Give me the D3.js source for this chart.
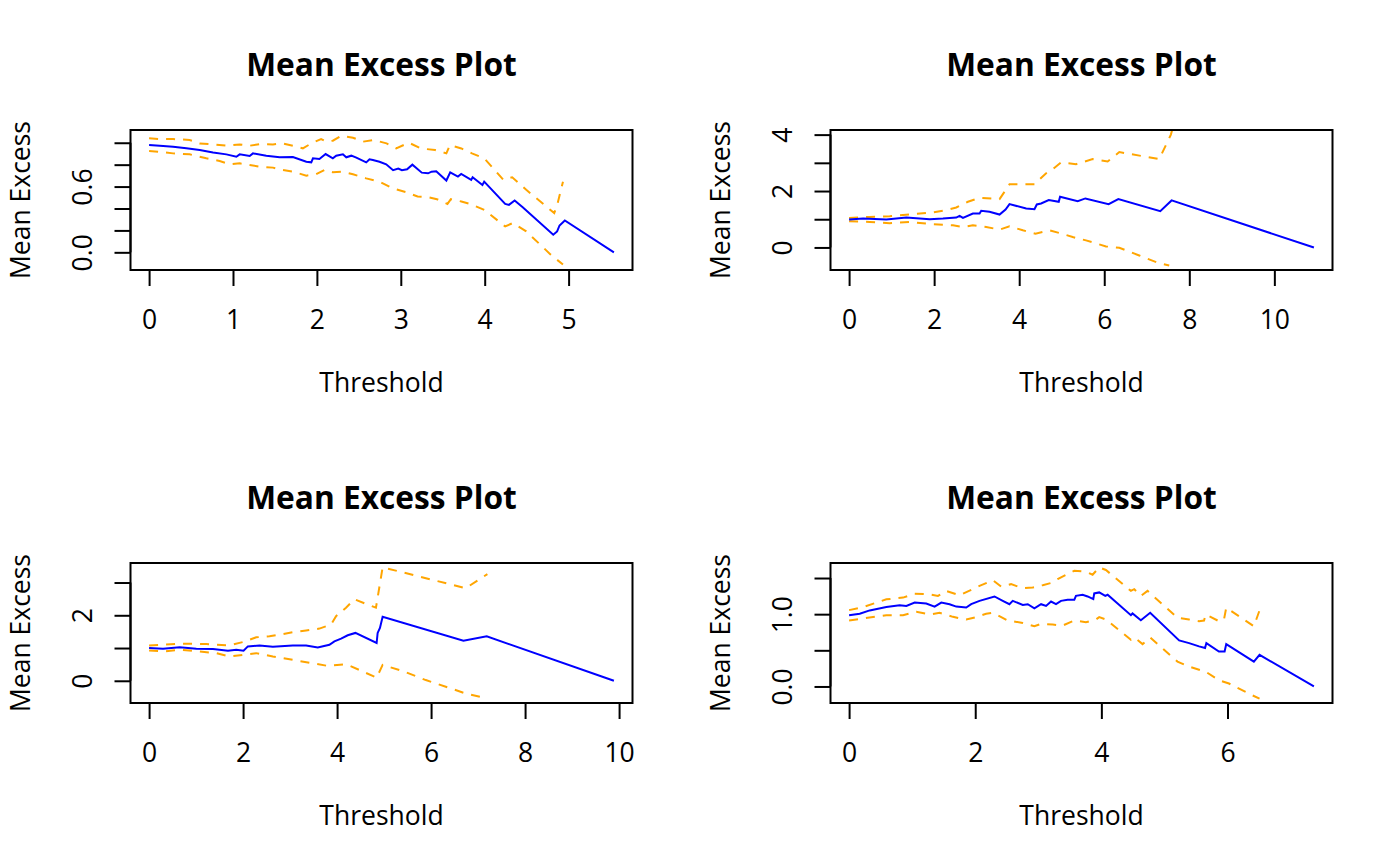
<!DOCTYPE html>
<html>
<head>
<meta charset="utf-8">
<script src="https://cdn.jsdelivr.net/npm/d3@7"></script>
<style>
  html, body { margin: 0; padding: 0; background: #fff; }
  svg text { font-family: "Open Sans", "Noto Sans", sans-serif; fill: #000; }
</style>
</head>
<body>
<div id="chart"></div>
<script>
// mean excess curves: [threshold, mean excess]
const p1Mean = [[0,0.979],[0.127,0.973],[0.286,0.964],[0.444,0.949],[0.603,0.933],[0.762,0.912],[0.921,0.894],[1.04,0.872],[1.08,0.894],[1.199,0.879],[1.238,0.903],[1.397,0.882],[1.556,0.867],[1.714,0.87],[1.874,0.827],[1.933,0.821],[1.953,0.858],[2.03,0.852],[2.104,0.897],[2.19,0.858],[2.23,0.882],[2.31,0.894],[2.35,0.867],[2.41,0.882],[2.47,0.864],[2.588,0.821],[2.627,0.849],[2.667,0.843],[2.746,0.827],[2.826,0.803],[2.908,0.749],[2.97,0.764],[3.013,0.749],[3.075,0.758],[3.138,0.800],[3.25,0.727],[3.325,0.721],[3.367,0.736],[3.422,0.739],[3.543,0.655],[3.589,0.730],[3.681,0.691],[3.72,0.715],[3.839,0.661],[3.856,0.685],[3.973,0.615],[3.994,0.645],[4.244,0.442],[4.289,0.433],[4.357,0.473],[4.453,0.412],[4.817,0.161],[4.863,0.191],[4.892,0.245],[4.955,0.291],[5.54,0]];
const p1Upper = [[0,1.04],[0.127,1.034],[0.286,1.034],[0.483,1.025],[0.603,0.994],[0.762,0.985],[0.921,0.973],[1.08,0.985],[1.199,0.973],[1.318,0.988],[1.476,0.985],[1.595,0.994],[1.714,0.973],[1.833,0.949],[1.933,0.994],[2.05,1.034],[2.11,1.01],[2.19,1.019],[2.29,1.064],[2.43,1.046],[2.55,1.01],[2.68,1.025],[2.83,0.994],[2.945,0.949],[3.096,1.000],[3.242,0.948],[3.409,0.933],[3.543,0.903],[3.585,0.979],[3.722,0.948],[3.848,0.903],[3.994,0.858],[4.224,0.661],[4.328,0.685],[4.495,0.570],[4.829,0.358],[4.870,0.449],[4.933,0.645]];
const p1Lower = [[0,0.924],[0.127,0.918],[0.286,0.903],[0.483,0.894],[0.682,0.858],[0.841,0.833],[0.96,0.803],[1.08,0.812],[1.199,0.797],[1.318,0.782],[1.476,0.773],[1.595,0.751],[1.714,0.736],[1.874,0.7],[1.99,0.712],[2.09,0.751],[2.19,0.73],[2.31,0.736],[2.43,0.712],[2.588,0.675],[2.746,0.645],[2.905,0.584],[3.075,0.546],[3.200,0.509],[3.325,0.503],[3.430,0.485],[3.556,0.442],[3.597,0.485],[3.722,0.464],[3.826,0.442],[3.994,0.388],[4.244,0.236],[4.335,0.267],[4.495,0.191],[4.787,-0.021],[4.933,-0.112]];

const p2Mean = [[0,0.988],[0.329,1.024],[0.876,0.988],[1.347,1.06],[1.894,1.0],[2.207,1.024],[2.52,1.06],[2.598,1.119],[2.677,1.048],[2.911,1.202],[3.068,1.202],[3.107,1.298],[3.302,1.262],[3.538,1.167],[3.679,1.345],[3.772,1.536],[4.164,1.381],[4.359,1.357],[4.414,1.524],[4.515,1.56],[4.695,1.679],[4.93,1.619],[4.961,1.798],[5.376,1.643],[5.556,1.738],[6.103,1.536],[6.331,1.714],[7.317,1.286],[7.583,1.667],[10.93,0]];
const p2Upper = [[0,1.048],[0.485,1.083],[0.955,1.107],[1.503,1.179],[1.972,1.238],[2.285,1.321],[2.52,1.417],[2.794,1.619],[3.068,1.762],[3.538,1.714],[3.655,1.976],[3.772,2.238],[4.359,2.238],[4.633,2.631],[4.789,2.774],[4.984,3.012],[5.336,2.952],[5.728,3.131],[6.08,3.048],[6.354,3.381],[7.293,3.131],[7.567,4.0],[7.62,4.3]];
const p2Lower = [[0,0.929],[0.485,0.905],[0.955,0.857],[1.425,0.905],[1.972,0.821],[2.442,0.786],[2.677,0.726],[2.911,0.786],[3.224,0.726],[3.538,0.631],[3.772,0.75],[4.085,0.607],[4.383,0.488],[4.711,0.607],[4.946,0.512],[5.258,0.369],[5.571,0.25],[6.041,0.036],[6.354,-0.012],[6.823,-0.286],[7.293,-0.56],[7.528,-0.643]];

const p3Mean = [[0,0.998],[0.297,0.978],[0.651,1.02],[1.005,0.978],[1.359,0.967],[1.678,0.916],[1.854,0.947],[2.01,0.916],[2.102,1.05],[2.35,1.08],[2.633,1.04],[3.058,1.08],[3.341,1.08],[3.589,1.02],[3.837,1.101],[3.943,1.204],[4.085,1.286],[4.227,1.389],[4.39,1.461],[4.841,1.153],[4.863,1.461],[4.912,1.615],[4.969,1.954],[6.688,1.225],[7.184,1.358],[9.89,0]];
const p3Upper = [[0,1.08],[0.297,1.101],[0.651,1.132],[1.217,1.122],[1.713,1.08],[2.0,1.184],[2.279,1.327],[2.562,1.358],[2.774,1.41],[3.058,1.481],[3.341,1.533],[3.624,1.594],[3.872,1.718],[3.978,1.974],[4.19,2.231],[4.367,2.488],[4.827,2.231],[4.969,3.464],[6.738,2.827],[7.198,3.258]];
const p3Lower = [[0,0.926],[0.297,0.895],[0.651,0.947],[1.076,0.895],[1.43,0.844],[1.713,0.741],[2.0,0.793],[2.279,0.844],[2.633,0.741],[3.058,0.638],[3.483,0.536],[3.801,0.454],[4.19,0.505],[4.473,0.33],[4.841,0.094],[4.969,0.484],[5.393,0.299],[5.888,0.022],[6.313,-0.183],[6.738,-0.388],[7.198,-0.542]];

const p4Mean = [[0,0.986],[0.169,1.005],[0.327,1.052],[0.591,1.1],[0.802,1.123],[0.908,1.114],[1.04,1.161],[1.224,1.147],[1.356,1.105],[1.462,1.161],[1.593,1.138],[1.699,1.105],[1.857,1.091],[1.936,1.138],[2.068,1.184],[2.305,1.245],[2.437,1.184],[2.542,1.138],[2.595,1.184],[2.754,1.128],[2.833,1.138],[2.938,1.082],[3.044,1.138],[3.123,1.114],[3.202,1.175],[3.281,1.138],[3.36,1.184],[3.465,1.198],[3.571,1.198],[3.597,1.254],[3.703,1.268],[3.782,1.245],[3.872,1.208],[3.887,1.287],[3.966,1.301],[4.062,1.254],[4.099,1.268],[4.468,0.986],[4.494,1.01],[4.626,0.917],[4.774,1.019],[5.233,0.637],[5.391,0.6],[5.549,0.554],[5.644,0.531],[5.665,0.6],[5.864,0.484],[5.954,0.484],[5.98,0.586],[6.418,0.344],[6.508,0.437],[7.37,0]];
const p4Upper = [[0,1.056],[0.222,1.098],[0.591,1.205],[0.855,1.229],[1.04,1.284],[1.277,1.275],[1.409,1.252],[1.54,1.322],[1.751,1.261],[2.068,1.391],[2.279,1.47],[2.41,1.382],[2.568,1.415],[2.754,1.359],[2.912,1.368],[3.07,1.401],[3.228,1.438],[3.307,1.485],[3.571,1.601],[3.755,1.587],[3.861,1.545],[3.966,1.648],[4.072,1.611],[4.468,1.322],[4.521,1.345],[4.626,1.252],[4.732,1.322],[5.207,0.949],[5.391,0.926],[5.549,0.903],[5.628,0.912],[5.654,0.996],[5.864,0.903],[5.944,0.926],[5.98,1.089],[6.418,0.833],[6.508,1.052]];
const p4Lower = [[0,0.912],[0.222,0.94],[0.591,0.986],[0.855,0.986],[1.066,1.033],[1.277,0.996],[1.435,1.019],[1.646,0.963],[1.857,0.926],[2.014,0.959],[2.173,1.005],[2.279,1.019],[2.516,0.912],[2.754,0.879],[2.938,0.833],[3.044,0.866],[3.228,0.856],[3.386,0.842],[3.571,0.912],[3.755,0.889],[3.914,0.926],[3.966,0.959],[4.072,0.926],[4.468,0.647],[4.521,0.679],[4.653,0.586],[4.774,0.679],[5.207,0.344],[5.391,0.274],[5.654,0.204],[5.864,0.087],[6.023,0.041],[6.392,-0.122],[6.508,-0.169]];

// y limits as in the original plot calls
const yLims = [[-0.114, 1.069], [-0.616, 3.98], [-0.52, 3.438], [-0.157, 1.636]];

// tick values and their labels ("" = tick without label)
const xTicks = [[0, 1, 2, 3, 4, 5], [0, 2, 4, 6, 8, 10], [0, 2, 4, 6, 8, 10], [0, 2, 4, 6]];
const yTicks = [[0, 0.2, 0.4, 0.6, 0.8, 1.0], [0, 1, 2, 3, 4], [0, 1, 2, 3], [0, 0.5, 1.0, 1.5]];
const yTickLabels = [["0.0", "", "", "0.6", "", ""], ["0", "", "2", "", "4"], ["0", "", "2", ""], ["0.0", "", "1.0", ""]];

const titleText = "Mean Excess Plot";
const xLabel = "Threshold";
const yLabel = "Mean Excess";

const panels = [
  { mean: p1Mean, upper: p1Upper, lower: p1Lower },
  { mean: p2Mean, upper: p2Upper, lower: p2Lower },
  { mean: p3Mean, upper: p3Upper, lower: p3Lower },
  { mean: p4Mean, upper: p4Upper, lower: p4Lower },
];

const width = 1400, height = 866;
const cellW = 700, cellH = 433;
const margin = { top: 130, right: 67.5, bottom: 163, left: 130.5 };
const tickLen = 16;
const labelSize = 26.5, titleSize = 31.7;

const svg = d3.select("#chart").append("svg")
  .attr("width", width)
  .attr("height", height);

// R style axis range: data range padded by 4% on each side
function padded([a, b]) {
  const p = (b - a) * 0.04;
  return [a - p, b + p];
}

panels.forEach((pd, i) => {
  const ox = (i % 2) * cellW, oy = Math.floor(i / 2) * cellH;
  const x0 = ox + margin.left, x1 = ox + cellW - margin.right;
  const y0 = oy + margin.top, y1 = oy + cellH - margin.bottom;

  const xMax = d3.max(pd.mean, d => d[0]);
  const x = d3.scaleLinear().domain(padded([0, xMax])).range([x0, x1]);
  const y = d3.scaleLinear().domain(padded(yLims[i])).range([y1, y0]);

  const g = svg.append("g");

  const clipId = "clip" + i;
  g.append("clipPath").attr("id", clipId)
    .append("rect")
    .attr("x", x0).attr("y", y0)
    .attr("width", x1 - x0).attr("height", y1 - y0);

  const line = d3.line().x(d => x(d[0])).y(d => y(d[1]));
  const lines = g.append("g").attr("clip-path", `url(#${clipId})`);

  [pd.upper, pd.lower].forEach(ci => {
    lines.append("path")
      .attr("d", line(ci))
      .attr("fill", "none")
      .attr("stroke", "orange")
      .attr("stroke-width", 2)
      .attr("stroke-dasharray", "9,8");
  });

  lines.append("path")
    .attr("d", line(pd.mean))
    .attr("fill", "none")
    .attr("stroke", "#0000FF")
    .attr("stroke-width", 2);

  // box
  g.append("rect")
    .attr("x", x0).attr("y", y0)
    .attr("width", x1 - x0).attr("height", y1 - y0)
    .attr("fill", "none")
    .attr("stroke", "#000")
    .attr("stroke-width", 2);

  // x axis
  const xAxis = d3.axisBottom(x)
    .tickValues(xTicks[i])
    .tickSize(tickLen)
    .tickSizeOuter(0)
    .tickFormat(d3.format("d"));
  const xa = g.append("g").attr("transform", `translate(0,${y1})`).call(xAxis);
  xa.select(".domain").attr("stroke-width", 2)
    .attr("d", `M${x(xTicks[i][0])},0H${x(xTicks[i][xTicks[i].length - 1])}`);
  xa.selectAll(".tick line").attr("stroke-width", 2);
  xa.selectAll(".tick text")
    .attr("y", null).attr("dy", null)
    .attr("transform", `translate(0,${328.5 - (cellH - margin.bottom)})`)
    .style("font-size", labelSize + "px")
    .style("font-family", '"Open Sans", sans-serif');

  // y axis
  const yAxis = d3.axisLeft(y)
    .tickValues(yTicks[i])
    .tickSize(tickLen)
    .tickSizeOuter(0)
    .tickFormat((d, k) => yTickLabels[i][k]);
  const ya = g.append("g").attr("transform", `translate(${x0},0)`).call(yAxis);
  ya.select(".domain").attr("stroke-width", 2)
    .attr("d", `M0,${y(yTicks[i][0])}V${y(yTicks[i][yTicks[i].length - 1])}`);
  ya.selectAll(".tick line").attr("stroke-width", 2);
  ya.selectAll(".tick text")
    .attr("x", null).attr("dy", null)
    .attr("text-anchor", "middle")
    .attr("transform", `translate(${91.5 - margin.left},0) rotate(-90)`)
    .style("font-size", labelSize + "px")
    .style("font-family", '"Open Sans", sans-serif');

  // titles
  g.append("text")
    .attr("x", (x0 + x1) / 2).attr("y", oy + 76)
    .attr("text-anchor", "middle")
    .style("font-size", titleSize + "px")
    .style("font-weight", "bold")
    .text(titleText);

  g.append("text")
    .attr("x", (x0 + x1) / 2).attr("y", oy + 391.5)
    .attr("text-anchor", "middle")
    .style("font-size", labelSize + "px")
    .text(xLabel);

  g.append("text")
    .attr("transform", `translate(${ox + 29.5},${(y0 + y1) / 2}) rotate(-90)`)
    .attr("text-anchor", "middle")
    .style("font-size", labelSize + "px")
    .text(yLabel);
});
</script>
</body>
</html>
